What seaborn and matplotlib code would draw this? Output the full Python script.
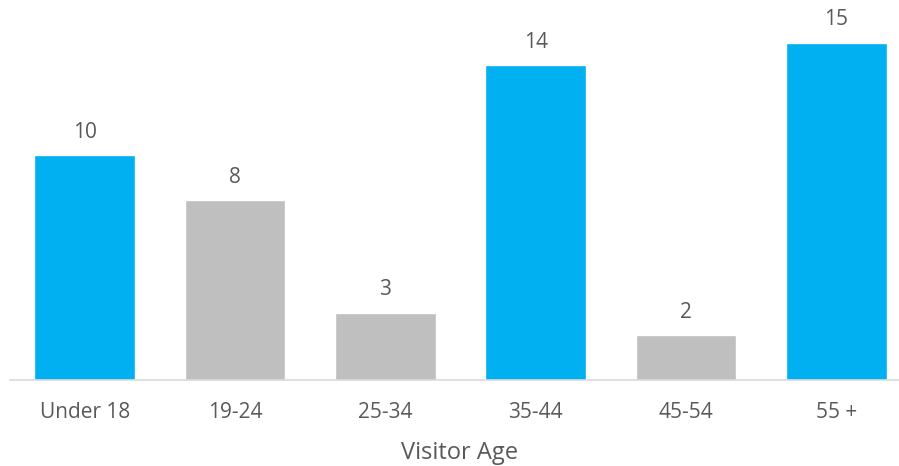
import matplotlib
matplotlib.use("Agg")
import matplotlib.pyplot as plt
import seaborn as sns
import pandas as pd

categories = ["Under 18", "19-24", "25-34", "35-44", "45-54", "55 +"]
values = [10, 8, 3, 14, 2, 15]
highlight = [True, False, False, True, False, True]

BLUE = "#00B0F0"
GRAY = "#BFBFBF"
TEXT = "#595959"

sns.set_theme(style="white")
plt.rcParams['font.family'] = ['Open Sans', 'DejaVu Sans']

df = pd.DataFrame({"age": categories, "count": values})
palette = {c: (BLUE if h else GRAY) for c, h in zip(categories, highlight)}

fig = plt.figure(figsize=(8.99, 4.66), dpi=100)
ax = fig.add_axes([9.5 / 899, 86 / 466, (899 - 9.5) / 899, 380 / 466])
sns.barplot(data=df, x="age", y="count", hue="age", palette=palette,
            order=categories, width=0.67, legend=False, ax=ax, saturation=1)

ax.set_xlim(-0.5, 5.417)
ax.set_ylim(0, 380 / (337.3 / 15))
for c in ax.containers:
    ax.bar_label(c, fmt="%d", padding=9, color=TEXT, fontsize=15)

for s in ["top", "right", "left"]:
    ax.spines[s].set_visible(False)
ax.spines["bottom"].set_color("#D9D9D9")
ax.spines["bottom"].set_linewidth(1.2)
ax.set_yticks([])
ax.set_ylabel("")
ax.tick_params(axis="x", length=0, pad=16, labelsize=15, labelcolor=TEXT)
ax.set_xlabel("Visitor Age", fontsize=17, color=TEXT, labelpad=13)
ax.xaxis.label.set_x((460 - 9.5) / (899 - 9.5))

fig.savefig("out.png", dpi=100)
